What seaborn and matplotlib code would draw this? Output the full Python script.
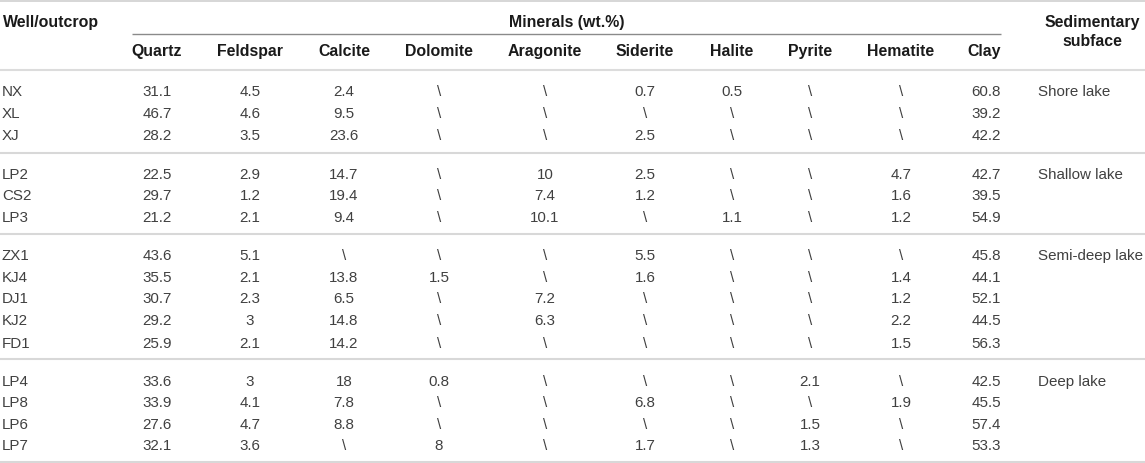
import matplotlib
matplotlib.use("Agg")
import matplotlib.pyplot as plt
import seaborn as sns

wells = ["NX", "XL", "XJ", "LP2", "CS2", "LP3", "ZX1", "KJ4", "DJ1", "KJ2", "FD1",
         "LP4", "LP8", "LP6", "LP7"]
minerals = ["Quartz", "Feldspar", "Calcite", "Dolomite", "Aragonite", "Siderite",
            "Halite", "Pyrite", "Hematite", "Clay"]
quartz = ["31.1", "46.7", "28.2", "22.5", "29.7", "21.2", "43.6", "35.5", "30.7", "29.2", "25.9",
          "33.6", "33.9", "27.6", "32.1"]
feldspar = ["4.5", "4.6", "3.5", "2.9", "1.2", "2.1", "5.1", "2.1", "2.3", "3", "2.1",
            "3", "4.1", "4.7", "3.6"]
calcite = ["2.4", "9.5", "23.6", "14.7", "19.4", "9.4", "\\", "13.8", "6.5", "14.8", "14.2",
           "18", "7.8", "8.8", "\\"]
dolomite = ["\\", "\\", "\\", "\\", "\\", "\\", "\\", "1.5", "\\", "\\", "\\",
            "0.8", "\\", "\\", "8"]
aragonite = ["\\", "\\", "\\", "10", "7.4", "10.1", "\\", "\\", "7.2", "6.3", "\\",
             "\\", "\\", "\\", "\\"]
siderite = ["0.7", "\\", "2.5", "2.5", "1.2", "\\", "5.5", "1.6", "\\", "\\", "\\",
            "\\", "6.8", "\\", "1.7"]
halite = ["0.5", "\\", "\\", "\\", "\\", "1.1", "\\", "\\", "\\", "\\", "\\",
          "\\", "\\", "\\", "\\"]
pyrite = ["\\", "\\", "\\", "\\", "\\", "\\", "\\", "\\", "\\", "\\", "\\",
          "2.1", "\\", "1.5", "1.3"]
hematite = ["\\", "\\", "\\", "4.7", "1.6", "1.2", "\\", "1.4", "1.2", "2.2", "1.5",
            "\\", "1.9", "\\", "\\"]
clay = ["60.8", "39.2", "42.2", "42.7", "39.5", "54.9", "45.8", "44.1", "52.1", "44.5", "56.3",
        "42.5", "45.5", "57.4", "53.3"]
subfaces = ["Shore lake", "Shallow lake", "Semi-deep lake", "Deep lake"]
group_sizes = [3, 3, 5, 4]

columns = [quartz, feldspar, calcite, dolomite, aragonite, siderite, halite, pyrite, hematite, clay]

sns.set_theme(style="white")
plt.rcParams["font.family"] = ["Liberation Sans", "DejaVu Sans"]

W, H = 1145, 463
fig = plt.figure(figsize=(W / 100, H / 100), dpi=100)
ax = fig.add_axes([0, 0, 1, 1])
ax.set_xlim(0, W)
ax.set_ylim(H, 0)
ax.axis("off")

col_x = [157, 250, 344, 439, 545, 645, 732, 810, 901, 1001]
col_ha = ["center"] * 9 + ["right"]
row_base = [96, 118, 140, 179, 200, 222, 260, 282, 303, 325, 348, 386, 407, 429, 450]
sep_y = [153, 234, 359]

hdr_col = "#1a1a1a"
txt_col = "#404040"
fs_h = 11.4
fs_d = 10.9

# rules
ax.hlines(1, 0, W, color="#d0d0d0", lw=1.2)
ax.hlines(34, 132, 1001, color="#8a8a8a", lw=1.0)
ax.hlines(70, 0, W, color="#dcdcdc", lw=1.5)
for y in sep_y:
    ax.hlines(y, 0, W, color="#d8d8d8", lw=1.5)
ax.hlines(461.5, 0, W, color="#d8d8d8", lw=1.5)

# headers
hk = dict(va="baseline", fontsize=fs_h, fontweight="bold", color=hdr_col)
ax.text(3, 26.5, "Well/outcrop", ha="left", **hk)
ax.text(567, 26.5, "Minerals (wt.%)", ha="center", **hk)
ax.text(1092, 26.5, "Sedimentary", ha="center", **hk)
ax.text(1092, 46.5, "subface", ha="center", **hk)
for name, x, ha in zip(minerals, col_x, col_ha):
    ax.text(x, 56, name, ha=ha, **hk)

# body
dk = dict(va="baseline", fontsize=fs_d, color=txt_col)
for i, (w, y) in enumerate(zip(wells, row_base)):
    ax.text(2, y, w, ha="left", **dk)
    for col, x, ha in zip(columns, col_x, col_ha):
        ax.text(x, y, col[i], ha=ha, **dk)

start = 0
for name, n in zip(subfaces, group_sizes):
    ax.text(1038, row_base[start], name, ha="left", **dk)
    start += n

fig.savefig("out.png", dpi=100, facecolor="white")
